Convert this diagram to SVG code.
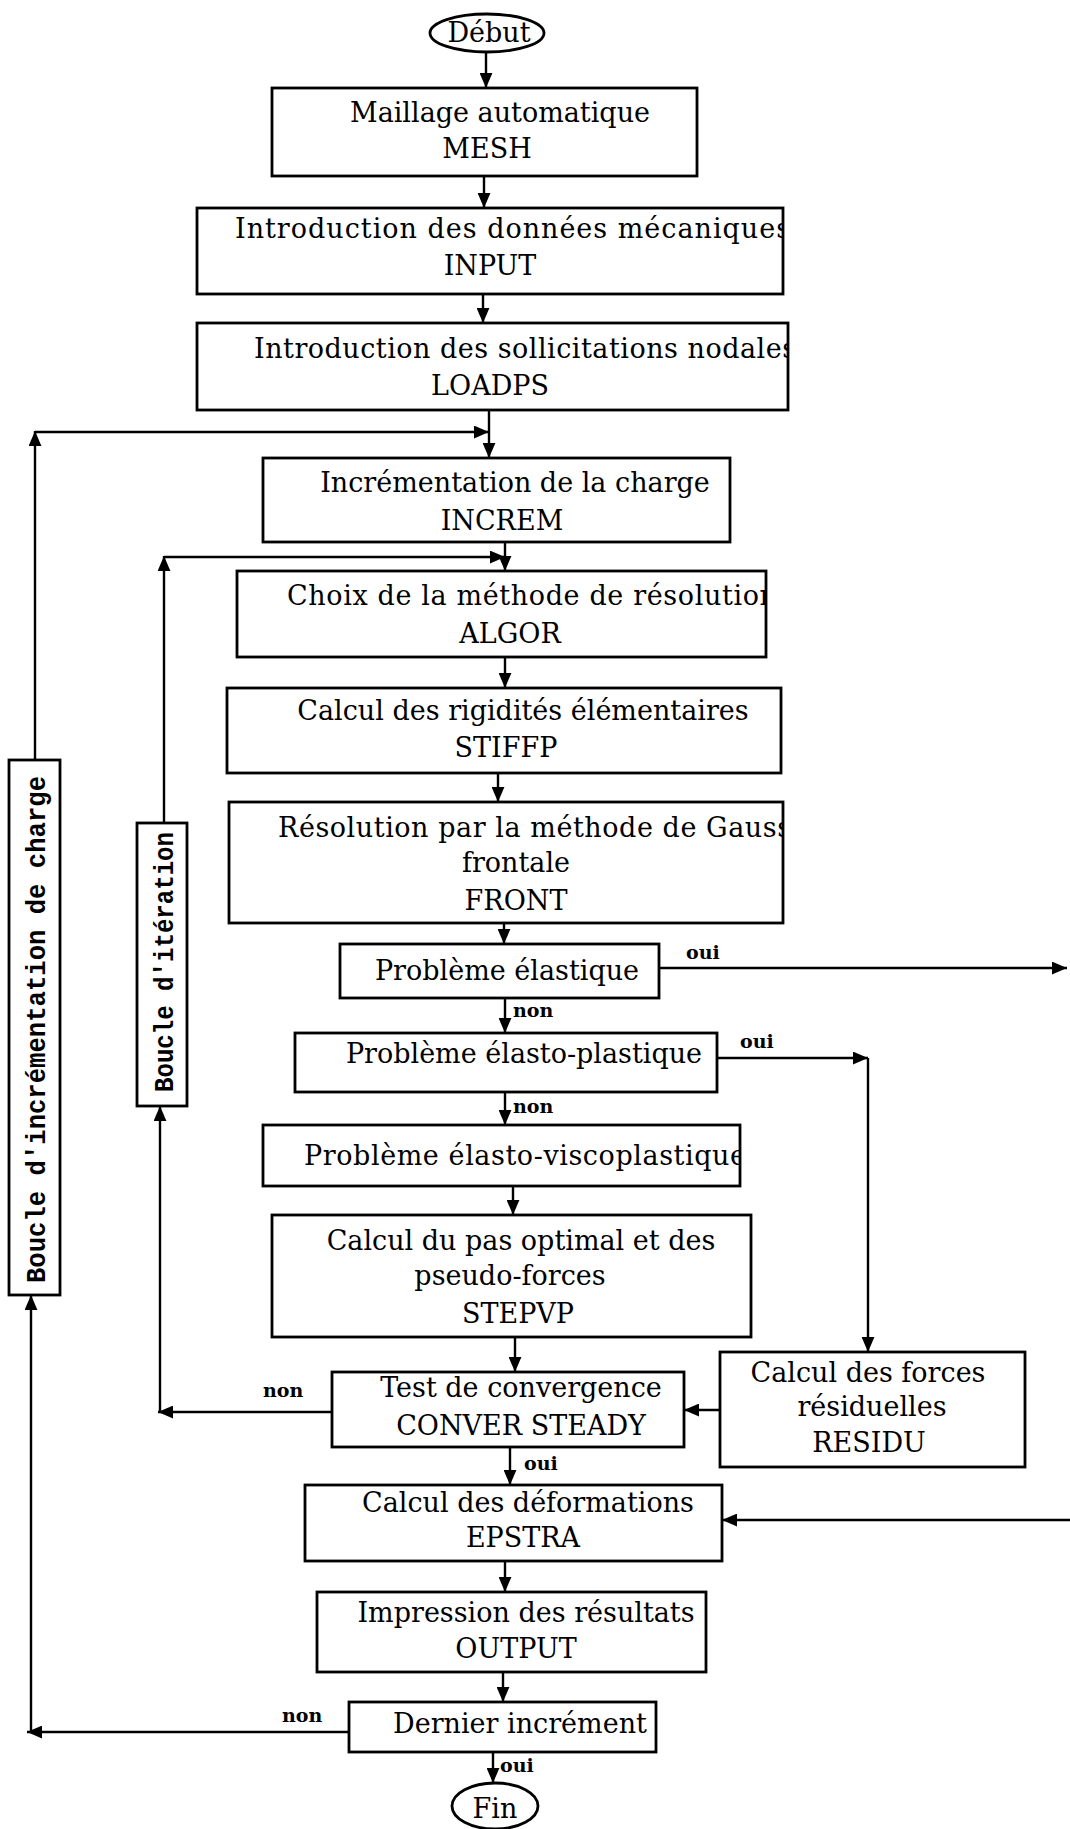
<svg xmlns="http://www.w3.org/2000/svg" width="1070" height="1829" viewBox="0 0 1070 1829">
<style>
.bx{fill:#fff;stroke:#000;stroke-width:2.8}
.t{font-family:"DejaVu Serif","Liberation Serif",serif;font-size:27px;fill:#000}
.c{text-anchor:middle}
.lb{font-family:"DejaVu Serif","Liberation Serif",serif;font-size:19px;font-weight:bold;fill:#000}
.m{font-family:"Liberation Mono","DejaVu Sans Mono",monospace;font-size:28px;font-weight:bold;fill:#000}
.ln{stroke:#000;stroke-width:2.4;fill:none}
</style>
<defs>
<marker id="ah" viewBox="0 0 14 12" refX="14" refY="6" markerWidth="15" markerHeight="13" markerUnits="userSpaceOnUse" orient="auto"><path d="M0,0 L14,6 L0,12 z" fill="#000"/></marker>
<clipPath id="cInput"><rect x="197" y="200" width="585" height="100"/></clipPath>
<clipPath id="cLoad"><rect x="197" y="315" width="590" height="100"/></clipPath>
<clipPath id="cAlgor"><rect x="237" y="565" width="528" height="100"/></clipPath>
<clipPath id="cFront"><rect x="229" y="800" width="553" height="60"/></clipPath>
<clipPath id="cVisco"><rect x="263" y="1120" width="476" height="70"/></clipPath>
<clipPath id="cDern"><rect x="349" y="1700" width="306" height="55"/></clipPath>
</defs>
<rect width="1070" height="1829" fill="#fff"/>

<g id="connectors">
<line class="ln" x1="486" y1="53" x2="486" y2="88" marker-end="url(#ah)"/>
<line class="ln" x1="484" y1="176" x2="484" y2="208" marker-end="url(#ah)"/>
<line class="ln" x1="483" y1="294" x2="483" y2="323" marker-end="url(#ah)"/>
<line class="ln" x1="489" y1="410" x2="489" y2="458" marker-end="url(#ah)"/>
<line class="ln" x1="35" y1="760" x2="35" y2="431" marker-end="url(#ah)"/>
<line class="ln" x1="35" y1="432" x2="489" y2="432" marker-end="url(#ah)"/>
<line class="ln" x1="505" y1="542" x2="505" y2="571" marker-end="url(#ah)"/>
<line class="ln" x1="164" y1="823" x2="164" y2="556" marker-end="url(#ah)"/>
<line class="ln" x1="164" y1="557" x2="505" y2="557" marker-end="url(#ah)"/>
<line class="ln" x1="505" y1="657" x2="505" y2="688" marker-end="url(#ah)"/>
<line class="ln" x1="498" y1="773" x2="498" y2="802" marker-end="url(#ah)"/>
<line class="ln" x1="504" y1="923" x2="504" y2="944" marker-end="url(#ah)"/>
<line class="ln" x1="659" y1="968" x2="1067" y2="968" marker-end="url(#ah)"/>
<line class="ln" x1="505" y1="998" x2="505" y2="1033" marker-end="url(#ah)"/>
<line class="ln" x1="717" y1="1058" x2="868" y2="1058" marker-end="url(#ah)"/>
<line class="ln" x1="868" y1="1058" x2="868" y2="1352" marker-end="url(#ah)"/>
<line class="ln" x1="505" y1="1092" x2="505" y2="1125" marker-end="url(#ah)"/>
<line class="ln" x1="513" y1="1186" x2="513" y2="1215" marker-end="url(#ah)"/>
<line class="ln" x1="515" y1="1337" x2="515" y2="1372" marker-end="url(#ah)"/>
<line class="ln" x1="720" y1="1410" x2="684" y2="1410" marker-end="url(#ah)"/>
<line class="ln" x1="332" y1="1412" x2="158" y2="1412" marker-end="url(#ah)"/>
<line class="ln" x1="160" y1="1413" x2="160" y2="1106" marker-end="url(#ah)"/>
<line class="ln" x1="510" y1="1447" x2="510" y2="1485" marker-end="url(#ah)"/>
<line class="ln" x1="1070" y1="1520" x2="722" y2="1520" marker-end="url(#ah)"/>
<line class="ln" x1="505" y1="1561" x2="505" y2="1592" marker-end="url(#ah)"/>
<line class="ln" x1="503" y1="1672" x2="503" y2="1702" marker-end="url(#ah)"/>
<line class="ln" x1="349" y1="1732" x2="27" y2="1732" marker-end="url(#ah)"/>
<line class="ln" x1="31" y1="1733" x2="31" y2="1295" marker-end="url(#ah)"/>
<line class="ln" x1="493" y1="1752" x2="493" y2="1783" marker-end="url(#ah)"/>
<text class="lb" x="686" y="959">oui</text>
<text class="lb" x="513" y="1017">non</text>
<text class="lb" x="740" y="1048">oui</text>
<text class="lb" x="513" y="1113">non</text>
<text class="lb" x="263" y="1397">non</text>
<text class="lb" x="524" y="1470">oui</text>
<text class="lb" x="282" y="1722">non</text>
<text class="lb" x="500" y="1772">oui</text>
</g>

<g id="debut">
<ellipse class="bx" cx="487" cy="33" rx="57" ry="19"/>
<text class="t c" x="489" y="42">Début</text>
</g>
<g id="mesh">
<rect class="bx" x="272" y="88" width="425" height="88"/>
<text class="t c" x="500" y="122">Maillage automatique</text>
<text class="t c" x="487" y="158">MESH</text>
</g>
<g id="input">
<rect class="bx" x="197" y="208" width="586" height="86"/>
<text class="t" x="235" y="238" textLength="555" lengthAdjust="spacing" clip-path="url(#cInput)">Introduction des données mécaniques</text>
<text class="t c" x="490" y="275">INPUT</text>
</g>
<g id="loadps">
<rect class="bx" x="197" y="323" width="591" height="87"/>
<text class="t" x="254" y="358" textLength="542" lengthAdjust="spacing" clip-path="url(#cLoad)">Introduction des sollicitations nodales</text>
<text class="t c" x="490" y="395">LOADPS</text>
</g>
<g id="increm">
<rect class="bx" x="263" y="458" width="467" height="84"/>
<text class="t c" x="515" y="492">Incrémentation de la charge</text>
<text class="t c" x="502" y="530">INCREM</text>
</g>
<g id="algor">
<rect class="bx" x="237" y="571" width="529" height="86"/>
<text class="t" x="287" y="605" textLength="490" lengthAdjust="spacing" clip-path="url(#cAlgor)">Choix de la méthode de résolution</text>
<text class="t c" x="510" y="643">ALGOR</text>
</g>
<g id="stiffp">
<rect class="bx" x="227" y="688" width="554" height="85"/>
<text class="t c" x="523" y="720">Calcul des rigidités élémentaires</text>
<text class="t c" x="506" y="757">STIFFP</text>
</g>
<g id="front">
<rect class="bx" x="229" y="802" width="554" height="121"/>
<text class="t" x="278" y="837" textLength="513" lengthAdjust="spacing" clip-path="url(#cFront)">Résolution par la méthode de Gauss</text>
<text class="t c" x="516" y="872">frontale</text>
<text class="t c" x="516" y="910">FRONT</text>
</g>
<g id="elastique">
<rect class="bx" x="340" y="944" width="319" height="54"/>
<text class="t c" x="507" y="980">Problème élastique</text>
</g>
<g id="elastoplastique">
<rect class="bx" x="295" y="1033" width="422" height="59"/>
<text class="t c" x="524" y="1063">Problème élasto-plastique</text>
</g>
<g id="elastoviscoplastique">
<rect class="bx" x="263" y="1125" width="477" height="61"/>
<text class="t" x="304" y="1165" textLength="442" lengthAdjust="spacing" clip-path="url(#cVisco)">Problème élasto-viscoplastique</text>
</g>
<g id="stepvp">
<rect class="bx" x="272" y="1215" width="479" height="122"/>
<text class="t c" x="521" y="1250">Calcul du pas optimal et des</text>
<text class="t c" x="510" y="1285">pseudo-forces</text>
<text class="t c" x="518" y="1323">STEPVP</text>
</g>
<g id="conver">
<rect class="bx" x="332" y="1372" width="352" height="75"/>
<text class="t c" x="521" y="1397">Test de convergence</text>
<text class="t c" x="521" y="1435">CONVER STEADY</text>
</g>
<g id="residu">
<rect class="bx" x="720" y="1352" width="305" height="115"/>
<text class="t c" x="868" y="1382">Calcul des forces</text>
<text class="t c" x="872" y="1416">résiduelles</text>
<text class="t c" x="869" y="1452">RESIDU</text>
</g>
<g id="epstra">
<rect class="bx" x="305" y="1485" width="417" height="76"/>
<text class="t c" x="528" y="1512">Calcul des déformations</text>
<text class="t c" x="523" y="1547">EPSTRA</text>
</g>
<g id="output">
<rect class="bx" x="317" y="1592" width="389" height="80"/>
<text class="t c" x="526" y="1622">Impression des résultats</text>
<text class="t c" x="516" y="1658">OUTPUT</text>
</g>
<g id="dernier">
<rect class="bx" x="349" y="1702" width="307" height="50"/>
<text class="t c" x="520" y="1733" clip-path="url(#cDern)">Dernier incrément</text>
</g>
<g id="fin">
<ellipse class="bx" cx="495" cy="1806" rx="43" ry="23"/>
<text class="t c" x="495" y="1818">Fin</text>
</g>
<g id="boucle-increment">
<rect class="bx" x="9" y="760" width="51" height="535"/>
<text class="m" x="0" y="0" transform="translate(45,1283) rotate(-90)" textLength="507" lengthAdjust="spacingAndGlyphs">Boucle d'incrémentation de charge</text>
</g>
<g id="boucle-iteration">
<rect class="bx" x="137" y="823" width="50" height="283"/>
<text class="m" x="0" y="0" transform="translate(173,1092) rotate(-90)" textLength="260" lengthAdjust="spacingAndGlyphs">Boucle d'itération</text>
</g>
</svg>
